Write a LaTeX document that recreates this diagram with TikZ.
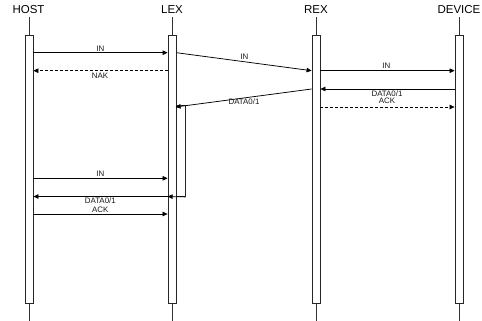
\documentclass[tikz,border=0pt]{standalone}
\usepackage{fontspec}
\setmainfont{Liberation Sans}
\usetikzlibrary{arrows.meta}
\begin{document}
\begin{tikzpicture}[x=1pt,y=-1pt,
  head/.style={font=\fontsize{11.5}{12}\selectfont, inner sep=0pt},
  lbl/.style={font=\fontsize{7.9}{7.6}\selectfont, inner sep=0pt, text=black!90, align=center},
  lifeline/.style={draw=black!80, line width=0.7pt},
  lifebox/.style={draw=black!85, line width=0.8pt, fill=white, minimum width=8pt, inner sep=0pt},
  msg/.style={line width=0.75pt, -{Triangle[length=5pt,width=4.5pt]}},
  ret/.style={msg, dash pattern=on 3pt off 2pt},
]
\useasboundingbox (0,0) rectangle (482,321);

% heads
\node[head] (host) at (28.5,9.5) {HOST};
\node[head] (lex)  at (172,9.5) {LEX};
\node[head] (rex)  at (316,9.5) {REX};
\node[head] (dev)  at (459,9.5) {DEVICE};

% lifelines
\coordinate (hostend) at (29,321);
\coordinate (lexend) at (172,321);
\coordinate (rexend) at (316,321);
\coordinate (devend) at (459,321);
\draw[lifeline] (29,17) -- (hostend);
\draw[lifeline] (172,17) -- (lexend);
\draw[lifeline] (316,17) -- (rexend);
\draw[lifeline] (459,17) -- (devend);

\node[lifebox, minimum height=268pt] (hostbox) at (29,169) {};
\node[lifebox, minimum height=268pt] (lexbox)  at (172,169) {};
\node[lifebox, minimum height=268pt] (rexbox)  at (316,169) {};
\node[lifebox, minimum height=268pt] (devbox)  at (459,169) {};

% sub activation on LEX
\node[lifebox, minimum width=9pt, minimum height=91.5pt] (lexsub) at (180.5,150.75) {};

% message heights
\coordinate (y1) at (0,52.7);
\coordinate (y2) at (0,70.7);
\coordinate (y3) at (0,89);
\coordinate (y4) at (0,107);
\coordinate (y5) at (0,178.3);
\coordinate (y6) at (0,196.5);
\coordinate (y7) at (0,214);

% messages
\draw[msg] (hostbox.east |- y1) -- (lexbox.west |- y1);
\draw[ret] (lexbox.west |- y2) -- (hostbox.east |- y2);
\draw[msg] (lexbox.east |- y1) -- (rexbox.west |- y2);
\draw[msg] (rexbox.east |- y2) -- (devbox.west |- y2);
\draw[msg] (devbox.west |- y3) -- (rexbox.east |- y3);
\draw[ret] (rexbox.east |- y4) -- (devbox.west |- y4);
\draw[msg] (rexbox.west |- y3) -- (lexsub.west |- y4);
\draw[msg] (hostbox.east |- y5) -- (lexbox.west |- y5);
\draw[msg] (lexsub.south east) -- (lexbox.west |- y6);
\draw[msg] (lexbox.west |- y6) -- (hostbox.east |- y6);
\draw[msg] (hostbox.east |- y7) -- (lexbox.west |- y7);

% labels
\node[lbl] (l1) at (100.3,48.3) {IN};
\node[lbl] (l2) at (100,75.5) {NAK};
\node[lbl] (l3) at (244.5,56.8) {IN};
\node[lbl] (l4) at (386.3,65.5) {IN};
\node[lbl, anchor=north] (l5) at (387,90.4) {DATA0/1\\ACK};
\node[lbl] (l6) at (244,101.5) {DATA0/1};
\node[lbl] (l7) at (100.3,173.8) {IN};
\node[lbl, font=\fontsize{7.9}{9.3}\selectfont, anchor=north] (l8) at (100.3,197.4) {DATA0/1\\ACK};
\end{tikzpicture}
\end{document}
